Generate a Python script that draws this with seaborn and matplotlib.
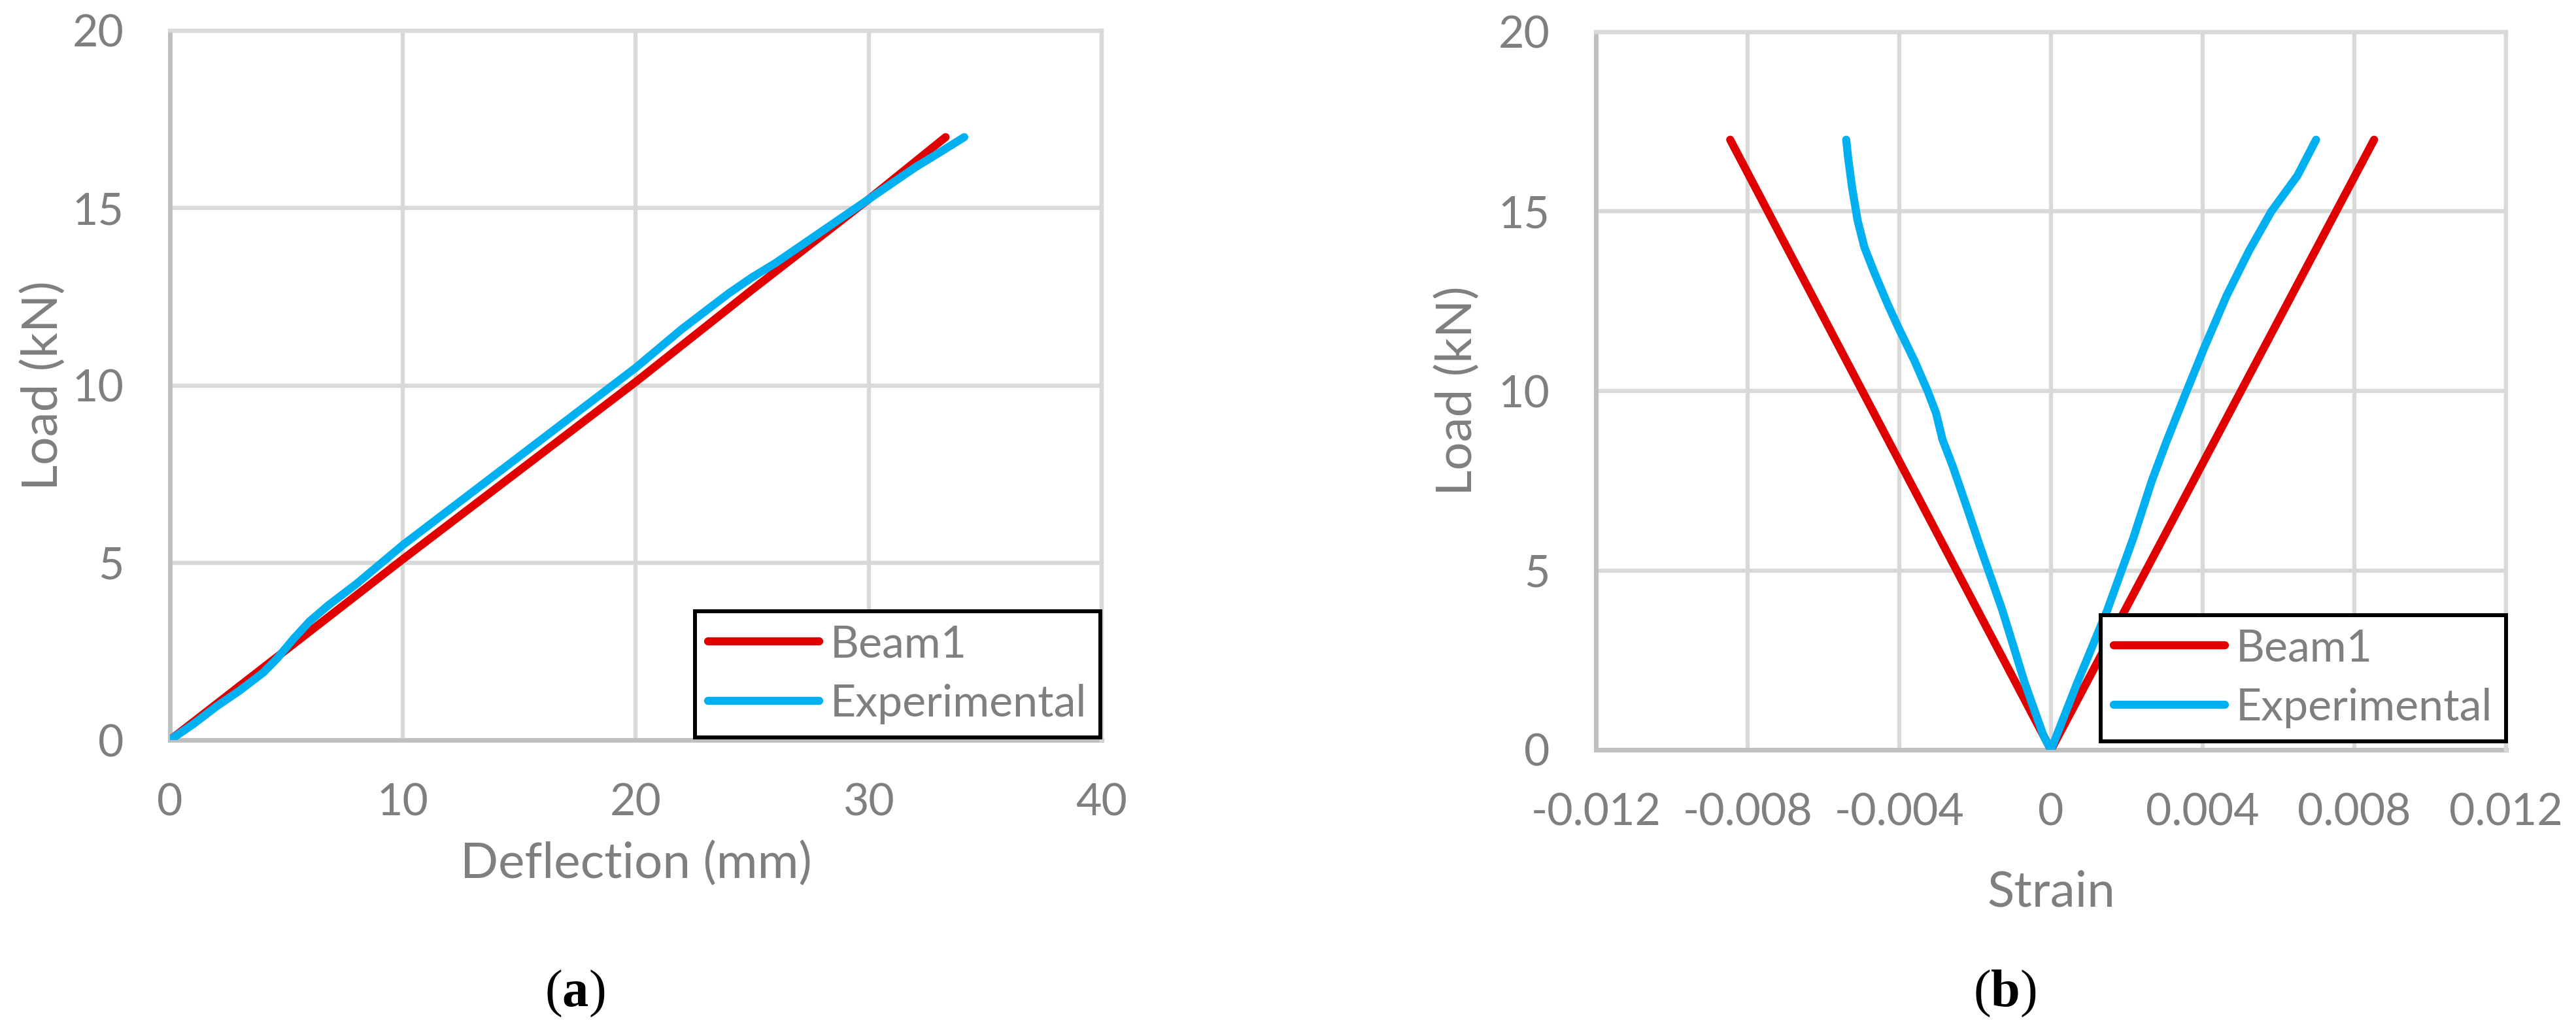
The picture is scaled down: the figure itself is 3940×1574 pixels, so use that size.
import numpy as np
import pandas as pd
import matplotlib
matplotlib.use("Agg")
import matplotlib.pyplot as plt
from matplotlib.lines import Line2D
import seaborn as sns

# ---------------- data ----------------
series_names = ["Beam1", "Experimental"]
series_colors = ["#E00000", "#00B0F0"]

# (a) load - deflection
defl_beam1 = [0, 5, 10, 15, 20, 25, 30, 33.3]
load_beam1_a = [0, 2.55, 5.1, 7.6, 10.1, 12.7, 15.25, 17.0]
defl_exp = [0, 1, 2, 3, 4, 4.6, 5.3, 6.0, 6.8, 8, 10, 12, 15, 18, 20, 21,
            22.0, 23.0, 24.0, 25.0, 26.0, 27.0, 28.0, 29.0, 30, 31, 32, 33, 34.1]
load_exp_a = [0, 0.45, 0.95, 1.4, 1.9, 2.3, 2.85, 3.35, 3.8, 4.4, 5.5, 6.5,
              8.0, 9.5, 10.5, 11.05, 11.6, 12.1, 12.6, 13.05, 13.45, 13.9, 14.35,
              14.8, 15.25, 15.7, 16.15, 16.55, 17.0]

# (b) load - strain
strain_beam1 = [-0.00846, 0.0, 0.00852]
load_beam1_b = [17.0, 0.0, 17.0]
strain_exp = [-0.0054, -0.00535, -0.00525, -0.0051, -0.00492, -0.00466, -0.0043,
              -0.00404, -0.0036, -0.00325, -0.00303, -0.00286, -0.00259, -0.0022,
              -0.00185, -0.00128, -0.00069, -0.0002, 0.0, 0.00069, 0.00148, 0.00217,
              0.00266, 0.00305, 0.00354, 0.00404, 0.00463, 0.00522, 0.00581, 0.0065,
              0.00699]
load_exp_b = [17.0, 16.5, 15.7, 14.75, 14.0, 13.3, 12.4, 11.8, 10.84, 9.99, 9.38,
              8.64, 7.9, 6.7, 5.6, 3.88, 1.86, 0.4, 0.0, 1.86, 3.88, 5.9, 7.5, 8.6,
              9.9, 11.2, 12.65, 13.9, 15.0, 16.0, 17.0]

# ticks
xticks_a = [0, 10, 20, 30, 40]
xticklabels_a = ["0", "10", "20", "30", "40"]
xticks_b = [-0.012, -0.008, -0.004, 0, 0.004, 0.008, 0.012]
xticklabels_b = ["-0.012", "-0.008", "-0.004", "0", "0.004", "0.008", "0.012"]
yticks = [0, 5, 10, 15, 20]
yticklabels = ["0", "5", "10", "15", "20"]

# ---------------- style ----------------
sns.set_theme(style="white")
plt.rcParams["font.family"] = ["Lato", "DejaVu Sans"]
plt.rcParams["mathtext.fontset"] = "custom"
plt.rcParams["mathtext.rm"] = "Liberation Serif"
plt.rcParams["mathtext.bf"] = "Liberation Serif:bold"

TXT = "#7F7F7F"
GRID = "#D9D9D9"
AXIS = "#BFBFBF"
LW = 8.9
TICK_FS = 49
LABEL_FS = 55
LEG_FS = 49

W, H = 3941, 1574
fig = plt.figure(figsize=(W / 100, H / 100), dpi=100)

ax_a = fig.add_axes([260 / W, 1 - 1132 / H, 1425 / W, 1085 / H])
ax_b = fig.add_axes([2441 / W, 1 - 1147 / H, 1392 / W, 1098 / H])

df_a = pd.DataFrame({
    "x": defl_beam1 + defl_exp,
    "y": load_beam1_a + load_exp_a,
    "series": [series_names[0]] * len(defl_beam1) + [series_names[1]] * len(defl_exp),
})
df_b = pd.DataFrame({
    "x": strain_beam1 + strain_exp,
    "y": load_beam1_b + load_exp_b,
    "series": [series_names[0]] * len(strain_beam1) + [series_names[1]] * len(strain_exp),
})

palette = dict(zip(series_names, series_colors))

for ax, df in [(ax_a, df_a), (ax_b, df_b)]:
    sns.lineplot(data=df, x="x", y="y", hue="series", hue_order=series_names,
                 palette=palette, sort=False, estimator=None, linewidth=LW,
                 legend=False, ax=ax, zorder=3)
    for ln in ax.get_lines():
        ln.set_solid_capstyle("round")
        ln.set_solid_joinstyle("round")


def style_axes(ax, xticks, xlabels, xlim, xlabel, xlabel_y, ylabel_x):
    ax.set_xlim(*xlim)
    ax.set_ylim(0, 20)
    ax.set_xticks(xticks)
    ax.set_xticklabels(xlabels)
    ax.set_yticks(yticks)
    ax.set_yticklabels(yticklabels)
    ax.grid(True, color=GRID, linewidth=4.6, zorder=0)
    ax.set_axisbelow(True)
    for s in ["top", "right"]:
        ax.spines[s].set_color(GRID)
        ax.spines[s].set_linewidth(4.6)
    for s in ["left", "bottom"]:
        ax.spines[s].set_color(AXIS)
        ax.spines[s].set_linewidth(5.0)
        ax.spines[s].set_zorder(2)
    ax.tick_params(axis="both", length=0, labelsize=TICK_FS, labelcolor=TXT)
    ax.tick_params(axis="x", pad=47)
    ax.tick_params(axis="y", pad=51)
    ax.set_xlabel(xlabel, fontsize=LABEL_FS, color=TXT)
    ax.set_ylabel("Load (kN)", fontsize=LABEL_FS, color=TXT)
    ax.xaxis.label.set_va("center")
    ax.yaxis.label.set_va("center")
    ax.xaxis.set_label_coords(0.5, xlabel_y)
    ax.yaxis.set_label_coords(ylabel_x, 0.5)
    ax.set_facecolor("white")


style_axes(ax_a, xticks_a, xticklabels_a, (0, 40), "Deflection (mm)",
           (1132 - 1321) / 1085, (66 - 260) / 1425)
style_axes(ax_b, xticks_b, xticklabels_b, (-0.012, 0.012), "Strain",
           (1147 - 1365) / 1098, (2229 - 2441) / 1392)

handles = [Line2D([0], [0], color=c, linewidth=LW, solid_capstyle="round")
           for c in series_colors]


def add_legend(ax, right_px, bottom_px):
    leg = ax.legend(handles, series_names, loc="lower right",
                    bbox_to_anchor=(right_px / W, 1 - bottom_px / H),
                    bbox_transform=fig.transFigure, borderaxespad=0,
                    fontsize=LEG_FS, labelcolor=TXT, frameon=True,
                    fancybox=False, framealpha=1, edgecolor="black",
                    handlelength=2.5, handletextpad=0.25, labelspacing=0.42,
                    borderpad=0.3)
    leg.get_frame().set_linewidth(4.3)
    leg.set_zorder(10)


add_legend(ax_a, 1683, 1128)
add_legend(ax_b, 3833, 1134)

fig.text(879 / W, 1 - 1520 / H, r"($\mathbf{a}$)", fontsize=58, color="black",
         ha="center", va="center", family="Liberation Serif")
fig.text(3066 / W, 1 - 1520 / H, r"($\mathbf{b}$)", fontsize=58, color="black",
         ha="center", va="center", family="Liberation Serif")

fig.savefig("out.png", dpi=100, facecolor="white")
